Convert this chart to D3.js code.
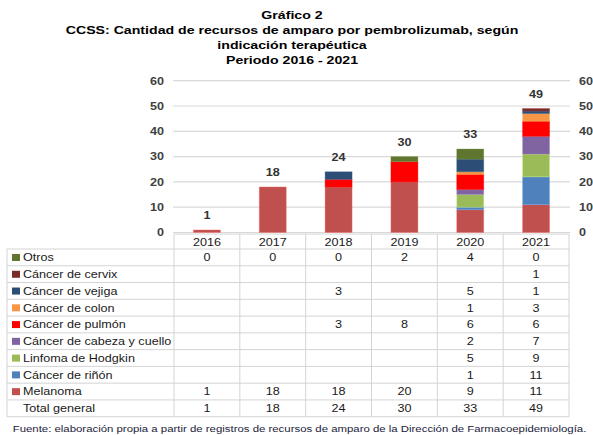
<!DOCTYPE html>
<html>
<head>
<meta charset="utf-8">
<script src="https://cdn.jsdelivr.net/npm/d3@7"></script>
<style>
  body { margin: 0; background: #fff; }
  svg { display: block; font-family: Arial, "Liberation Sans", sans-serif; }
</style>
</head>
<body>
<div id="vis"></div>
<script>
// data
var years = ['2016', '2017', '2018', '2019', '2020', '2021'];
// listed bottom of the stack first
var series = ['Melanoma', 'Cáncer de riñón', 'Linfoma de Hodgkin', 'Cáncer de cabeza y cuello',
  'Cáncer de pulmón', 'Cáncer de colon', 'Cáncer de vejiga', 'Cáncer de cervix', 'Otros'];
var colors = ['#C0504D', '#4F81BD', '#9BBB59', '#8064A2', '#FF0000', '#F79646', '#2C4D75', '#772C2A', '#5F7530'];
// null = empty cell in the table
var melanoma = [1, 18, 18, 20, 9, 11];
var rinon = [null, null, null, null, 1, 11];
var hodgkin = [null, null, null, null, 5, 9];
var cabeza = [null, null, null, null, 2, 7];
var pulmon = [null, null, 3, 8, 6, 6];
var colon = [null, null, null, null, 1, 3];
var vejiga = [null, null, 3, null, 5, 1];
var cervix = [null, null, null, null, null, 1];
var otros = [0, 0, 0, 2, 4, 0];
var totals = [1, 18, 24, 30, 33, 49];
var yTicks = [0, 10, 20, 30, 40, 50, 60];
var titleLines = ['Gráfico 2', 'CCSS: Cantidad de recursos de amparo por pembrolizumab, según',
  'indicación terapéutica', 'Periodo 2016 - 2021'];
var fuente = 'Fuente: elaboración propia a partir de registros de recursos de amparo de la Dirección de Farmacoepidemiología.';

var values = [melanoma, rinon, hodgkin, cabeza, pulmon, colon, vejiga, cervix, otros];

var width = 593, height = 435;
var sx = 1.2; // the picture is stretched sideways
var x0 = 174, x1 = 569;
var yTop = 80.7, yBase = 232.5;

var svg = d3.select('#vis').append('svg')
  .attr('width', width)
  .attr('height', height);

// text helper, keeps the sideways stretch
function label(g, txt, x, y, opt) {
  opt = opt || {};
  return g.append('text')
    .attr('transform', 'translate(' + x + ',' + y + ') scale(' + sx + ',1)')
    .attr('text-anchor', opt.anchor || 'start')
    .style('font-size', (opt.size || 10.5) + 'px')
    .style('font-weight', opt.bold ? 'bold' : 'normal')
    .style('fill', opt.fill || '#1a1a1a')
    .text(txt);
}

// title
titleLines.forEach(function (t, i) {
  label(svg, t, 292, 19 + i * 15, { anchor: 'middle', size: 11.8, bold: true, fill: '#000' });
});

var x = d3.scaleBand()
  .domain(years)
  .range([x0, x1])
  .paddingInner(0.59)
  .paddingOuter(0.295);

var y = d3.scaleLinear()
  .domain([0, 60])
  .range([yBase, yTop]);

// gridlines
svg.append('g')
  .selectAll('line')
  .data(yTicks)
  .enter().append('line')
  .attr('x1', x0 - 1)
  .attr('x2', x1 + 1)
  .attr('y1', function (d) { return y(d); })
  .attr('y2', function (d) { return y(d); })
  .attr('stroke', '#d9d9d9')
  .attr('stroke-width', 1.2);

// axes, left and right
var leftAxis = svg.append('g')
  .attr('transform', 'translate(' + (x0 - 1) + ',0)')
  .call(d3.axisLeft(y).tickValues(yTicks).tickSize(0).tickPadding(7.5));
var rightAxis = svg.append('g')
  .attr('transform', 'translate(' + (x1 + 1) + ',0)')
  .call(d3.axisRight(y).tickValues(yTicks).tickSize(0).tickPadding(7.5));
[leftAxis, rightAxis].forEach(function (a) {
  a.select('.domain').remove();
  a.selectAll('text')
    .attr('transform', 'scale(' + sx + ',1)')
    .style('font-family', 'Arial, "Liberation Sans", sans-serif')
    .style('font-size', '10.5px')
    .style('font-weight', 'bold')
    .style('fill', '#404040');
});

// stacked bars
var rows = years.map(function (yr, i) {
  var r = { year: yr };
  series.forEach(function (s, k) { r[s] = values[k][i] || 0; });
  return r;
});
var stacked = d3.stack().keys(series)(rows);

svg.append('g')
  .selectAll('g')
  .data(stacked)
  .enter().append('g')
  .attr('fill', function (d, i) { return colors[i]; })
  .attr('stroke', function (d, i) { return d3.color(colors[i]).brighter(0.8); })
  .attr('stroke-opacity', 0.45)
  .attr('stroke-width', 0.8)
  .selectAll('rect')
  .data(function (d) { return d.filter(function (p) { return p[1] > p[0]; }); })
  .enter().append('rect')
  .attr('x', function (d) { return x(d.data.year); })
  .attr('width', x.bandwidth())
  .attr('y', function (d) { return y(d[1]); })
  .attr('height', function (d) { return y(d[0]) - y(d[1]); });

// totals above the bars
var totalG = svg.append('g');
years.forEach(function (yr, i) {
  label(totalG, totals[i], x(yr) + x.bandwidth() / 2, y(totals[i]) - 11,
    { anchor: 'middle', size: 10.5, bold: true, fill: '#333' });
});

// data table
var step = x.step();
var tableLeft = 7;
var headTop = 234, rowH = 16.77;
var firstRow = headTop + 15;
var tableRows = series.slice().reverse().map(function (s) {
  var k = series.indexOf(s);
  return { name: s, color: colors[k], vals: values[k] };
});
tableRows.push({ name: 'Total general', color: null, vals: totals });
var tableBottom = firstRow + tableRows.length * rowH;

var table = svg.append('g');
var border = '#d4d4d4';

// horizontal lines
table.append('line')
  .attr('x1', x0).attr('x2', x1).attr('y1', headTop).attr('y2', headTop)
  .attr('stroke', border);
d3.range(tableRows.length + 1).forEach(function (r) {
  var yy = firstRow + r * rowH;
  table.append('line')
    .attr('x1', tableLeft).attr('x2', x1).attr('y1', yy).attr('y2', yy)
    .attr('stroke', border);
});
// vertical lines
table.append('line')
  .attr('x1', tableLeft).attr('x2', tableLeft).attr('y1', firstRow).attr('y2', tableBottom)
  .attr('stroke', border);
d3.range(years.length + 1).forEach(function (c) {
  var xx = x0 + c * step;
  table.append('line')
    .attr('x1', xx).attr('x2', xx).attr('y1', headTop).attr('y2', tableBottom)
    .attr('stroke', border);
});

// header
years.forEach(function (yr) {
  label(table, yr, x(yr) + x.bandwidth() / 2, headTop + 11.5, { anchor: 'middle' });
});

// rows
tableRows.forEach(function (row, r) {
  var top = firstRow + r * rowH;
  if (row.color) {
    table.append('rect')
      .attr('x', 12).attr('y', top + 5)
      .attr('width', 8).attr('height', 7)
      .attr('fill', row.color);
  }
  label(table, row.name, 23, top + 12.3);
  years.forEach(function (yr, i) {
    if (row.vals[i] === null) return;
    label(table, row.vals[i], x(yr) + x.bandwidth() / 2, top + 12.3, { anchor: 'middle' });
  });
});

// source note
label(svg, fuente, 299.5, 431.5, { anchor: 'middle', size: 9.5, fill: '#1b1b3a' });
</script>
</body>
</html>
